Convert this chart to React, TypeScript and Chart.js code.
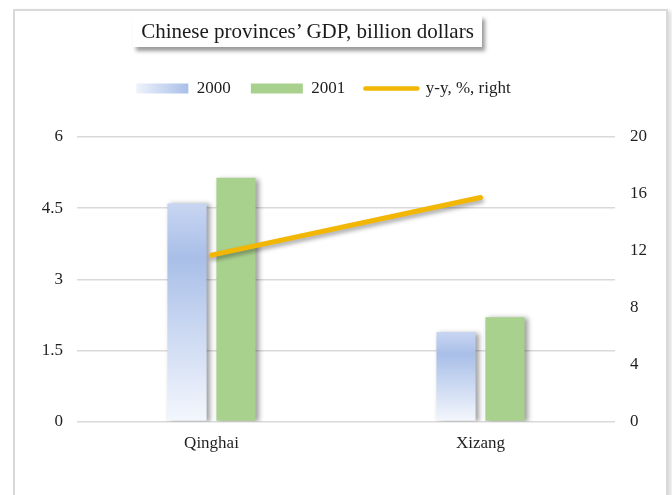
import { useEffect, useRef } from 'react'
import { Chart, registerables } from 'chart.js'

Chart.register(...registerables)

const provinces = ['Qinghai', 'Xizang']
const gdp2000 = [4.6, 1.89]
const gdp2001 = [5.14, 2.2]
const yoyPct = [11.7, 15.75]
const leftTicks = [0, 1.5, 3, 4.5, 6]
const rightTicks = [0, 4, 8, 12, 16, 20]

const FONT = "'Liberation Serif', 'Times New Roman', serif"
const TEXT = '#1f1f1f'
const BLUE = '#a9bfe8'
const GREEN = '#a9d18e'
const ORANGE = '#f2b705'

// vertical gradient per bar: light top, stronger band, fading to white at the base
function blueBar(context: any) {
  const chart = context.chart
  const y = chart.scales?.y
  if (!y || context.type !== 'data' || !chart.chartArea) return BLUE
  const top = y.getPixelForValue(context.raw)
  const bottom = y.getPixelForValue(0)
  if (!isFinite(top) || !isFinite(bottom) || bottom <= top) return BLUE
  const g = chart.ctx.createLinearGradient(0, top, 0, bottom)
  g.addColorStop(0, '#c8d5f2')
  g.addColorStop(0.25, '#a9bfe8')
  g.addColorStop(1, '#f4f7fd')
  return g
}

const shadowPlugin = {
  id: 'markShadow',
  beforeDatasetDraw(chart: any, args: any) {
    const ctx = chart.ctx
    const isLine = args.meta.type === 'line'
    ctx.save()
    ctx.shadowColor = isLine ? 'rgba(0,0,0,0.35)' : 'rgba(0,0,0,0.38)'
    ctx.shadowBlur = isLine ? 4 : 5
    ctx.shadowOffsetX = isLine ? 1 : 3
    ctx.shadowOffsetY = isLine ? 3 : 1
  },
  afterDatasetDraw(chart: any) {
    chart.ctx.restore()
  }
}

// extra room between legend and plot area
const legendGap = {
  id: 'legendGap',
  afterInit(chart: any) {
    const legend = chart.legend
    if (!legend) return
    const fit = legend.fit
    legend.fit = function () {
      fit.call(this)
      this.height += 30
    }
  }
}

const legendGradient = {
  id: 'legendGradient',
  beforeDraw(chart: any) {
    const legend = chart.legend
    const box = legend?.legendHitBoxes?.[0]
    const item = legend?.legendItems?.[0]
    if (!box || !item) return
    const g = chart.ctx.createLinearGradient(box.left, 0, box.left + 52, 0)
    g.addColorStop(0, '#eef2fb')
    g.addColorStop(1, '#a9bfe8')
    item.fillStyle = g
  }
}

export default function App() {
  const canvasRef = useRef<HTMLCanvasElement>(null)

  useEffect(() => {
    if (!canvasRef.current) return

    const tickFont = { family: FONT, size: 17 }

    const chart = new Chart(canvasRef.current, {
      type: 'bar',
      data: {
        labels: provinces,
        datasets: [
          {
            type: 'bar',
            label: '2000',
            data: gdp2000,
            backgroundColor: blueBar,
            borderWidth: 0,
            categoryPercentage: 0.364,
            barPercentage: 0.8,
            yAxisID: 'y',
            order: 1
          },
          {
            type: 'bar',
            label: '2001',
            data: gdp2001,
            backgroundColor: GREEN,
            borderWidth: 0,
            categoryPercentage: 0.364,
            barPercentage: 0.8,
            yAxisID: 'y',
            order: 1
          },
          {
            type: 'line',
            label: 'y-y, %, right',
            data: yoyPct,
            borderColor: ORANGE,
            backgroundColor: ORANGE,
            borderWidth: 5,
            borderCapStyle: 'round',
            pointRadius: 0,
            pointHoverRadius: 0,
            yAxisID: 'y1',
            order: 0
          }
        ] as any
      },
      options: {
        animation: false,
        responsive: true,
        maintainAspectRatio: false,
        layout: { padding: { top: 60, bottom: 29, left: 0, right: 0 } },
        plugins: {
          title: { display: false },
          tooltip: { enabled: false },
          legend: {
            position: 'top',
            labels: {
              usePointStyle: true,
              pointStyleWidth: 52,
              boxHeight: 10,
              padding: 20,
              color: TEXT,
              font: { family: FONT, size: 17 },
              sort: (a: any, b: any) => a.datasetIndex - b.datasetIndex,
              generateLabels: (c: any) => {
                const items = Chart.defaults.plugins.legend.labels.generateLabels(c)
                return items.map((item: any) => {
                  const ds = c.data.datasets[item.datasetIndex]
                  if (ds.type === 'line') {
                    return { ...item, pointStyle: 'line', lineWidth: 4.5, lineCap: 'round', strokeStyle: ORANGE }
                  }
                  return {
                    ...item,
                    pointStyle: 'rect',
                    lineWidth: 0,
                    fillStyle: item.datasetIndex === 0 ? BLUE : GREEN
                  }
                })
              }
            }
          }
        },
        scales: {
          x: {
            grid: { display: false, drawTicks: false },
            border: { display: false },
            ticks: { padding: 12, color: TEXT, font: tickFont }
          },
          y: {
            position: 'left',
            min: 0,
            max: 6,
            afterBuildTicks: (axis: any) => {
              axis.ticks = leftTicks.map((value) => ({ value }))
            },
            afterFit: (axis: any) => {
              axis.width = 77
            },
            grid: { color: '#d9d9d9', lineWidth: 1.5, drawTicks: false },
            border: { display: false },
            ticks: {
              padding: 14,
              color: TEXT,
              font: tickFont,
              callback: (v: any) => String(v)
            }
          },
          y1: {
            position: 'right',
            min: 0,
            max: 20,
            afterBuildTicks: (axis: any) => {
              axis.ticks = rightTicks.map((value) => ({ value }))
            },
            afterFit: (axis: any) => {
              axis.width = 32
            },
            grid: { display: false, drawTicks: false },
            border: { display: false },
            ticks: {
              padding: 15,
              color: TEXT,
              font: tickFont,
              callback: (v: any) => String(v)
            }
          }
        }
      },
      plugins: [shadowPlugin, legendGap, legendGradient]
    } as any)

    return () => {
      chart.destroy()
    }
  }, [])

  return (
    <div style={{ position: 'fixed', inset: 0, overflow: 'hidden', background: '#fff' }}>
      <div
        style={{
          position: 'absolute',
          left: 13,
          top: 9,
          width: 651,
          height: 540,
          border: '2px solid #d9d9d9',
          boxShadow: '3px 2px 4px rgba(0,0,0,0.15)'
        }}
      />
      <div style={{ position: 'absolute', left: 0, top: 0, width: 647, height: 495 }}>
        <canvas ref={canvasRef} />
      </div>
      <div
        style={{
          position: 'absolute',
          left: 133,
          top: 15,
          width: 349,
          height: 32,
          background: '#fff',
          boxShadow: '3px 4px 4px rgba(0,0,0,0.4)',
          fontFamily: FONT,
          fontSize: 21,
          lineHeight: '33px',
          textAlign: 'center',
          color: '#1a1a1a',
          whiteSpace: 'nowrap'
        }}
      >
        Chinese provinces’ GDP, billion dollars
      </div>
    </div>
  )
}
